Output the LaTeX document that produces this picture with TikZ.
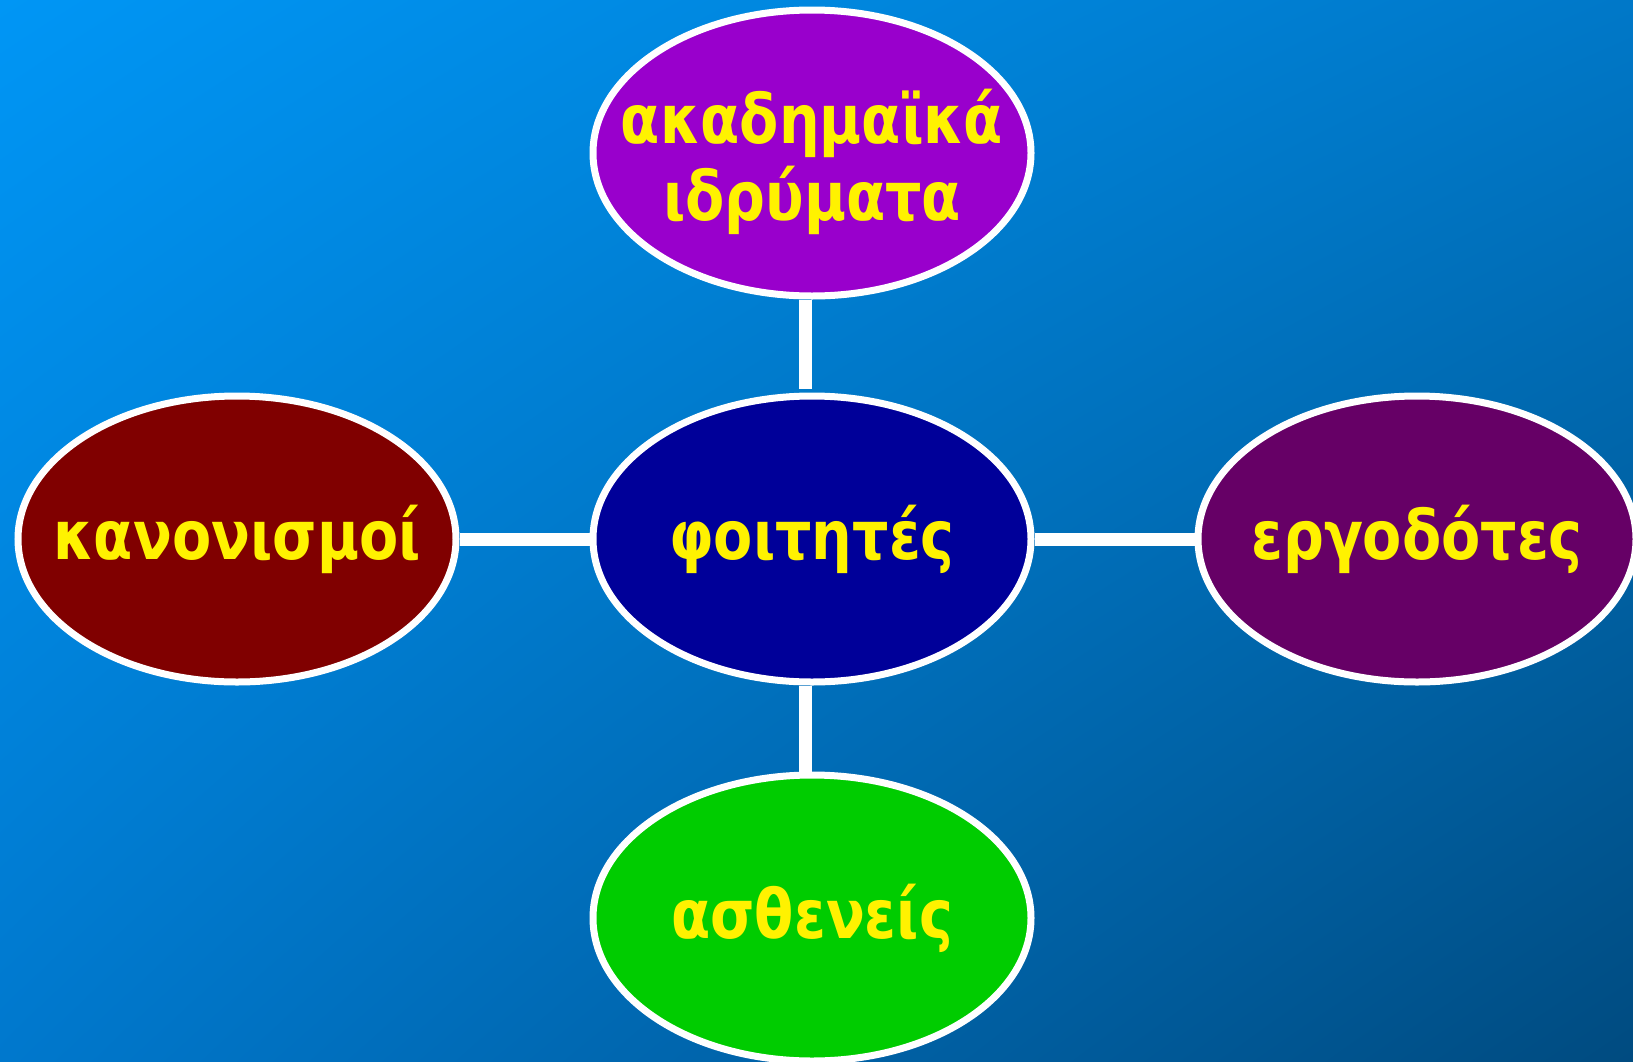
\documentclass[tikz,border=0pt]{standalone}
\usepackage{fontspec}
\newfontfamily\bubblefont{DejaVu Sans}[Script=Greek, FakeStretch=0.84]
\usetikzlibrary{positioning, shapes.geometric, shadings}

\definecolor{bgtl}{RGB}{0,150,245}
\definecolor{bgtr}{RGB}{0,120,200}
\definecolor{bgbl}{RGB}{0,120,205}
\definecolor{bgbr}{RGB}{0,75,128}
\definecolor{midblue}{RGB}{0,0,153}
\definecolor{toppurple}{RGB}{153,0,204}
\definecolor{leftred}{RGB}{128,0,0}
\definecolor{rightplum}{RGB}{102,0,102}
\definecolor{botgreen}{RGB}{0,204,0}

\begin{document}
\begin{tikzpicture}[x=0.5pt, y=-0.5pt,
    bubble/.style=
    {ellipse, draw=white, line width=3.5pt, inner sep=0pt,
     minimum width=219pt, minimum height=143pt, text=yellow,
     font=\bubblefont\bfseries\fontsize{34pt}{38pt}\selectfont},
    link/.style=
    {draw=white, line width=6.5pt},
    node distance = 46.5pt]
    \useasboundingbox (0,0) rectangle (1633,1061);
    \shade[upper left=bgtl, upper right=bgtr, lower left=bgbl, lower right=bgbr]
        (0,0) rectangle (1633,1061);
    \node (mid) [bubble, fill=midblue] at (812,539) {\makebox[0pt]{φοιτητές}};
    \node (top) [bubble, fill=toppurple, above=of mid]
        {\makebox[0pt]{\smash{\raisebox{-13pt}{\begin{tabular}{@{}c@{}}ακαδημαϊκά\\ιδρύματα\end{tabular}}}}};
    \node (bot) [bubble, fill=botgreen, below=43pt of mid] {\makebox[0pt]{ασθενείς}};
    \node (left) [bubble, fill=leftred, left=65pt of mid] {\makebox[0pt]{κανονισμοί}};
    \node (right) [bubble, fill=rightplum, right=80pt of mid] {\makebox[0pt]{εργοδότες}};
    \path[link] ([xshift=-3.25pt]top.south) edge[shorten >=2pt] ([xshift=-3.25pt]mid.north)
        ([xshift=-3.25pt]mid.south) edge ([xshift=-3.25pt]bot.north);
    \path[link] (left) edge (mid) (mid) edge (right);
\end{tikzpicture}
\end{document}
